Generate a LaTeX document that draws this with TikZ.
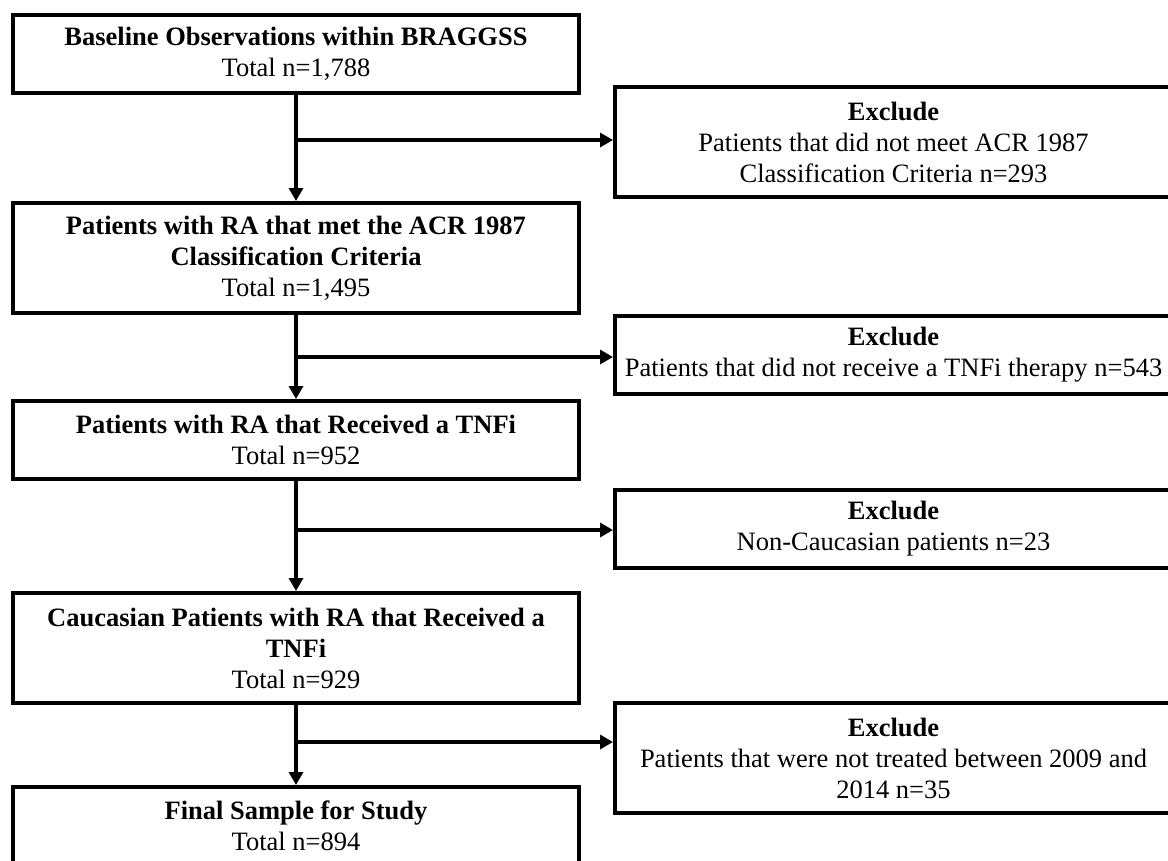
\documentclass[tikz,border=0pt]{standalone}
\usepackage{fontspec}
\setmainfont{Liberation Serif}
\usetikzlibrary{arrows.meta}
\begin{document}
\begin{tikzpicture}[x=1pt,y=-1pt,
  box/.style={draw, line width=4pt, rectangle, align=center, inner sep=0pt,
              font=\fontsize{26.5pt}{31pt}\selectfont},
  leftbox/.style={box, minimum width=566pt},
  rightbox/.style={box, minimum width=557pt},
  arr/.style={line width=4pt, -{Triangle[length=13pt,width=14pt]}}]
\clip (0,0) rectangle (1168,860);

% main flow (left column)
\node[leftbox, minimum height=78pt]  (b1) at (296,54)
  {\textbf{Baseline Observations within BRAGGSS}\\Total n=1,788};
\node[leftbox, minimum height=110pt] (b2) at (296,258)
  {\textbf{Patients with RA that met the ACR 1987}\\\textbf{Classification Criteria}\\Total n=1,495};
\node[leftbox, minimum height=78pt]  (b3) at (296,440)
  {\textbf{Patients with RA that Received a TNFi}\\Total n=952};
\node[leftbox, minimum height=110pt] (b4) at (296,648)
  {\textbf{Caucasian Patients with RA that Received a}\\\textbf{TNFi}\\Total n=929};
\node[leftbox, minimum height=78pt]  (b5) at (296,826)
  {\textbf{Final Sample for Study}\\Total n=894};

% exclusions (right column)
\node[rightbox, minimum height=110pt] (r1) at (893.5,142)
  {\textbf{Exclude}\\Patients that did not meet ACR 1987\\Classification Criteria n=293};
\node[rightbox, minimum height=78pt]  (r2) at (893.5,355)
  {\textbf{Exclude}\\Patients that did not receive a TNFi therapy n=543};
\node[rightbox, minimum height=78pt]  (r3) at (893.5,528.5)
  {\textbf{Exclude}\\Non-Caucasian patients n=23};
\node[rightbox, minimum height=110pt] (r4) at (893.5,758)
  {\textbf{Exclude}\\Patients that were not treated between 2009 and\\2014 n=35};

% branch points on the trunk
\coordinate (j1) at (296,140);
\coordinate (j2) at (296,357);
\coordinate (j3) at (296,530);
\coordinate (j4) at (296,742);

% connectors
\draw[arr] (b1.south) -- (b2.north);
\draw[arr] (b2.south) -- (b3.north);
\draw[arr] (b3.south) -- (b4.north);
\draw[arr] (b4.south) -- (b5.north);
\draw[arr] (j1) -- (j1 -| r1.west);
\draw[arr] (j2) -- (j2 -| r2.west);
\draw[arr] (j3) -- (j3 -| r3.west);
\draw[arr] (j4) -- (j4 -| r4.west);
\end{tikzpicture}
\end{document}
